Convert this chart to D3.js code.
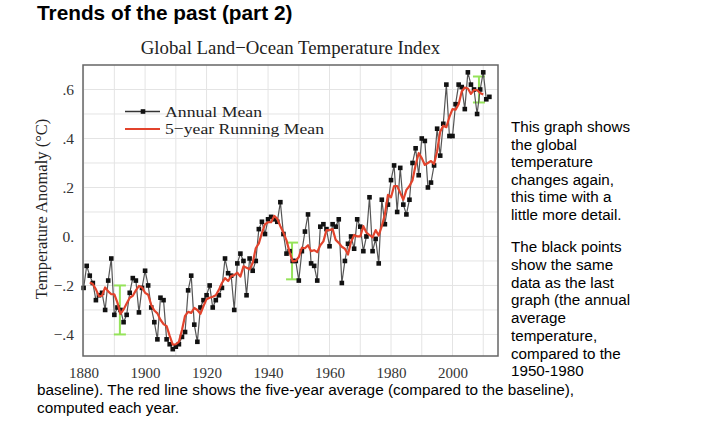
<!DOCTYPE html>
<html><head><meta charset="utf-8">
<script src="https://cdn.jsdelivr.net/npm/d3@7/dist/d3.min.js"></script>
<style>body{margin:0;background:#fff}svg{display:block}</style>
</head><body><svg id="c" width="706" height="438"></svg>
<script>
const years = [1880,1881,1882,1883,1884,1885,1886,1887,1888,1889,
1890,1891,1892,1893,1894,1895,1896,1897,1898,1899,
1900,1901,1902,1903,1904,1905,1906,1907,1908,1909,
1910,1911,1912,1913,1914,1915,1916,1917,1918,1919,
1920,1921,1922,1923,1924,1925,1926,1927,1928,1929,
1930,1931,1932,1933,1934,1935,1936,1937,1938,1939,
1940,1941,1942,1943,1944,1945,1946,1947,1948,1949,
1950,1951,1952,1953,1954,1955,1956,1957,1958,1959,
1960,1961,1962,1963,1964,1965,1966,1967,1968,1969,
1970,1971,1972,1973,1974,1975,1976,1977,1978,1979,
1980,1981,1982,1983,1984,1985,1986,1987,1988,1989,
1990,1991,1992,1993,1994,1995,1996,1997,1998,1999,
2000,2001,2002,2003,2004,2005,2006,2007,2008,2009,
2010,2011,2012];
const annualMean = [-0.21,-0.12,-0.16,-0.19,-0.26,-0.24,-0.23,-0.30,-0.18,-0.09,
-0.32,-0.29,-0.30,-0.35,-0.32,-0.23,-0.17,-0.18,-0.31,-0.21,
-0.14,-0.20,-0.29,-0.35,-0.42,-0.25,-0.26,-0.42,-0.44,-0.46,
-0.45,-0.44,-0.41,-0.39,-0.22,-0.16,-0.36,-0.43,-0.29,-0.26,
-0.24,-0.20,-0.29,-0.26,-0.24,-0.21,-0.09,-0.15,-0.16,-0.30,
-0.11,-0.07,-0.10,-0.24,-0.09,-0.14,-0.10,0.03,0.06,0.01,
0.07,0.08,0.07,0.06,0.14,0.01,-0.07,-0.06,-0.10,-0.10,
-0.18,-0.06,0.02,0.09,-0.11,-0.12,-0.18,0.04,0.05,0.03,
-0.04,0.05,0.04,0.07,-0.19,-0.10,-0.03,0.00,-0.05,0.07,
0.04,-0.06,0.00,0.16,-0.06,-0.01,-0.11,0.15,0.05,0.13,
0.23,0.29,0.10,0.28,0.13,0.09,0.15,0.30,0.36,0.25,
0.40,0.39,0.20,0.22,0.29,0.44,0.33,0.46,0.62,0.41,
0.41,0.54,0.62,0.61,0.52,0.67,0.62,0.60,0.50,0.60,
0.67,0.56,0.57];
const runningYears = years.slice(2, years.length - 2);
const runningMean = [-0.188,-0.194,-0.216,-0.244,-0.242,-0.208,-0.224,-0.236,
-0.236,-0.27,-0.316,-0.298,-0.274,-0.25,-0.242,-0.22,-0.202,-0.208,
-0.23,-0.238,-0.28,-0.302,-0.314,-0.34,-0.358,-0.366,-0.406,-0.442,
-0.44,-0.43,-0.382,-0.324,-0.308,-0.312,-0.292,-0.30,-0.316,-0.284,
-0.256,-0.25,-0.246,-0.24,-0.218,-0.19,-0.17,-0.182,-0.162,-0.158,
-0.148,-0.164,-0.122,-0.128,-0.134,-0.108,-0.048,-0.028,0.014,0.05,
0.058,0.058,0.084,0.072,0.042,0.016,-0.016,-0.064,-0.102,-0.10,
-0.084,-0.046,-0.048,-0.036,-0.06,-0.056,-0.064,-0.036,-0.02,0.026,
0.026,0.03,-0.014,-0.026,-0.042,-0.05,-0.074,-0.022,0.006,0.00,
0.00,0.042,0.016,0.006,-0.004,0.026,0.004,0.042,0.09,0.17,
0.16,0.206,0.206,0.178,0.15,0.19,0.206,0.23,0.292,0.34,
0.32,0.292,0.30,0.308,0.296,0.348,0.428,0.452,0.446,0.488,
0.52,0.518,0.54,0.592,0.608,0.604,0.582,0.598,0.598,0.586,
0.58];
const errorYears = [1891.8, 1947.8, 2008.6];
const errorCenters = [-0.30, -0.10, 0.60];
const errorHalf = [0.10, 0.075, 0.053];
const xTicks = [1880,1900,1920,1940,1960,1980,2000];
const yTicks = [0.6,0.4,0.2,0,-0.2,-0.4];
const yTickLabels = [".6",".4",".2","0.","\u2212.2","\u2212.4"];
const xGrid = [1880,1890,1900,1910,1920,1930,1940,1950,1960,1970,1980,1990,2000,2010];
const yGrid = [-0.4,-0.3,-0.2,-0.1,0,0.1,0.2,0.3,0.4,0.5,0.6];
const legendLabels = ["Annual Mean","5\u2212year Running Mean"];
const legendWidths = [97,159];
const chartTitle = "Global Land\u2212Ocean Temperature Index";
const yLabel = "Temperature Anomaly (\u00B0C)";
const heading = "Trends of the past (part 2)";
const sideText1 = ["This graph shows","the global","temperature","changes again,","this time with a","little more detail."];
const sideText2 = ["The black points","show the same","data as the last","graph (the annual","average","temperature,","compared to the","1950-1980"];
const bottomText = ["baseline). The red line shows the five-year average (compared to the baseline),","computed each year."];

const svg = d3.select("#c");
svg.append("rect").attr("width",706).attr("height",438).attr("fill","#fff");
const L=83,R=498,T=65,B=356;
const x = d3.scaleLinear().domain([1879.8,2014.8]).range([L,R]);
const y = d3.scaleLinear().domain([-0.488,0.70]).range([B,T]);
const serif = "'Liberation Serif','Times New Roman',serif";
const sans = "'Liberation Sans',Arial,sans-serif";

// grid
svg.append("g").selectAll("line").data(xGrid).join("line")
  .attr("x1",d=>x(d)).attr("x2",d=>x(d)).attr("y1",T).attr("y2",B)
  .attr("stroke","#e4e4e4").attr("stroke-width",1);
svg.append("g").selectAll("line").data(yGrid).join("line")
  .attr("x1",L).attr("x2",R).attr("y1",d=>y(d)).attr("y2",d=>y(d))
  .attr("stroke","#e4e4e4").attr("stroke-width",1);

// axes labels
const xa = d3.axisBottom(x).tickValues(xTicks).tickSize(0).tickFormat(d3.format("d"));
const gx = svg.append("g").attr("transform",`translate(0,${B+8.5})`).call(xa);
gx.select(".domain").remove();
gx.selectAll("text").attr("font-family",serif).attr("font-size",15).attr("fill","#333").attr("dy","0.71em");
const ya = d3.axisLeft(y).tickValues(yTicks).tickSize(0).tickFormat((d,i)=>yTickLabels[i]);
const gy = svg.append("g").attr("transform",`translate(${L-6},0)`).call(ya);
gy.select(".domain").remove();
gy.selectAll("text").attr("font-family",serif).attr("font-size",15.5).attr("fill","#333").attr("dy","0.32em");

// error bars
const eg = svg.append("g").attr("stroke","#95e35a").attr("stroke-width",2).attr("fill","none");
errorYears.forEach((yr,i)=>{
  const cx=x(yr), y1=y(errorCenters[i]+errorHalf[i]), y2=y(errorCenters[i]-errorHalf[i]);
  eg.append("line").attr("x1",cx).attr("x2",cx).attr("y1",y1).attr("y2",y2);
  eg.append("line").attr("x1",cx-6).attr("x2",cx+6).attr("y1",y1).attr("y2",y1);
  eg.append("line").attr("x1",cx-6).attr("x2",cx+6).attr("y1",y2).attr("y2",y2);
});

// annual line
const line = d3.line().x(d=>x(d[0])).y(d=>y(d[1]));
const ann = years.map((yr,i)=>[yr,annualMean[i]]);
svg.append("path").datum(ann).attr("d",line).attr("fill","none").attr("stroke","#555").attr("stroke-width",1.2);
svg.append("g").selectAll("rect").data(ann).join("rect")
  .attr("x",d=>x(d[0])-2.3).attr("y",d=>y(d[1])-2.3).attr("width",4.6).attr("height",4.6).attr("fill","#111");
// running mean
const run = runningYears.map((yr,i)=>[yr,runningMean[i]]);
svg.append("path").datum(run).attr("d",line).attr("fill","none").attr("stroke","#e2432c").attr("stroke-width",2.2).attr("stroke-linejoin","round");

// frame
svg.append("rect").attr("x",L).attr("y",T).attr("width",R-L).attr("height",B-T)
  .attr("fill","none").attr("stroke","#666").attr("stroke-width",1.5);

// legend
const lg = svg.append("g");
lg.append("line").attr("x1",125).attr("x2",160).attr("y1",111.5).attr("y2",111.5).attr("stroke","#333").attr("stroke-width",1.3);
lg.append("rect").attr("x",143-2.3).attr("y",111.5-2.3).attr("width",4.6).attr("height",4.6).attr("fill","#111");
lg.append("line").attr("x1",125).attr("x2",160).attr("y1",129).attr("y2",129).attr("stroke","#e2432c").attr("stroke-width",2.2);
lg.selectAll("text").data(legendLabels).join("text")
  .attr("x",165).attr("y",(d,i)=>116.5+i*17.5).text(d=>d)
  .attr("textLength",(d,i)=>legendWidths[i]).attr("lengthAdjust","spacingAndGlyphs")
  .attr("font-family",serif).attr("font-size",15.6).attr("fill","#222");

// chart title
svg.append("text").attr("x",(L+R)/2).attr("y",54).attr("text-anchor","middle")
  .attr("font-family",serif).attr("font-size",18.8).attr("fill","#222").text(chartTitle);
// y label
svg.append("text").attr("transform","translate(47,209) rotate(-90)").attr("text-anchor","middle")
  .attr("font-family",serif).attr("font-size",16.5).attr("fill","#222").text(yLabel);
// heading
svg.append("text").attr("x",37).attr("y",20).attr("font-family",sans).attr("font-weight","bold")
  .attr("font-size",20.8).attr("fill","#000").text(heading);
// side texts
svg.append("g").selectAll("text").data(sideText1).join("text")
  .attr("x",511).attr("y",(d,i)=>132+i*17.6).text(d=>d)
  .attr("font-family",sans).attr("font-size",15.2).attr("fill","#000");
svg.append("g").selectAll("text").data(sideText2).join("text")
  .attr("x",511).attr("y",(d,i)=>252+i*17.75).text(d=>d)
  .attr("font-family",sans).attr("font-size",15.2).attr("fill","#000");
svg.append("g").selectAll("text").data(bottomText).join("text")
  .attr("x",37).attr("y",(d,i)=>395+i*17.75).text(d=>d)
  .attr("font-family",sans).attr("font-size",15.3).attr("fill","#000");
</script></body></html>
